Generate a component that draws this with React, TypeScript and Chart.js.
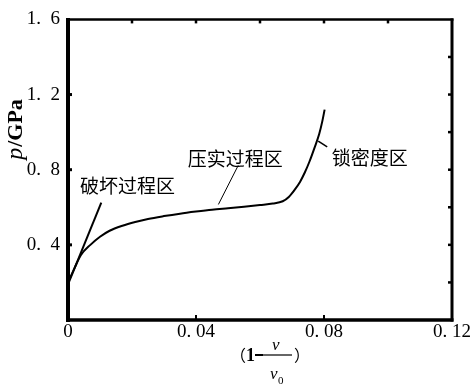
import React, { useEffect, useRef } from 'react';
import { Chart, registerables } from 'chart.js';

Chart.register(...registerables);

// Main compression curve: strain (1 - v/v0) vs pressure p (GPa)
const curveStrain = [0, 0.002, 0.004, 0.007, 0.010, 0.013, 0.017, 0.021, 0.025, 0.030, 0.035, 0.040, 0.045, 0.050, 0.055, 0.060, 0.064, 0.0671, 0.069, 0.0707, 0.0725, 0.074, 0.0755, 0.077, 0.0785, 0.0795, 0.0802];
const curvePressure = [0.20, 0.275, 0.345, 0.40, 0.443, 0.475, 0.502, 0.522, 0.538, 0.553, 0.566, 0.577, 0.587, 0.595, 0.603, 0.612, 0.620, 0.632, 0.655, 0.69, 0.735, 0.785, 0.845, 0.915, 0.99, 1.06, 1.12];

// Straight "damage" line
const damageStrain = [0, 0.0104];
const damagePressure = [0.19, 0.625];

// Leader lines for labels
const compactLeaderStrain = [0.0532, 0.047];
const compactLeaderPressure = [0.823, 0.615];
const lockLeaderStrain = [0.0782, 0.081];
const lockLeaderPressure = [0.952, 0.921];

// Ticks
const xTickValues = [0, 0.04, 0.08, 0.12];
const yTickValues = [0.4, 0.8, 1.2, 1.6];
const topTickValues = [0.02, 0.04, 0.06, 0.08, 0.1];
const rightTickValues = [0.2, 0.4, 0.6, 0.8, 1.0, 1.2, 1.4];
const bottomTickValues = [0.04, 0.08];
const leftTickValues = [0.4, 0.8, 1.2];

// Region labels
const regionNames = ['破坏过程区', '压实过程区', '锁密度区'];
const regionAnchorStrain = [0.0186, 0.0523, 0.0943];
const regionAnchorPressure = [0.714, 0.86, 0.865];

const toPoints = (xs: number[], ys: number[]) => xs.map((v, i) => ({ x: v, y: ys[i] }));

const fmtX = (v: number) => (v === 0 ? '0' : v.toFixed(2).replace('.', '. '));
const fmtY = (v: number) => (v === 0 ? '0' : v.toFixed(1).replace('.', '.\u2002'));

const decorPlugin = {
  id: 'decor',
  afterDraw(chart: any) {
    const ctx = chart.ctx as CanvasRenderingContext2D;
    const xs = chart.scales.x;
    const ys = chart.scales.y;
    const ca = chart.chartArea;
    ctx.save();
    ctx.strokeStyle = '#000';
    ctx.fillStyle = '#000';
    ctx.lineCap = 'butt';
    const seg = (x1: number, y1: number, x2: number, y2: number, w: number) => {
      ctx.lineWidth = w;
      ctx.beginPath();
      ctx.moveTo(x1, y1);
      ctx.lineTo(x2, y2);
      ctx.stroke();
    };
    // frame
    seg(ca.left, ca.top - 1.5, ca.left, ca.bottom + 2, 4);
    seg(ca.left - 2, ca.bottom, ca.right + 1.5, ca.bottom, 3.5);
    seg(ca.left - 2, ca.top, ca.right + 1.5, ca.top, 2.5);
    seg(ca.right, ca.top - 1, ca.right, ca.bottom + 1.5, 3);
    // inward ticks
    leftTickValues.forEach(v => { const p = ys.getPixelForValue(v); seg(ca.left, p, ca.left + 4, p, 3); });
    rightTickValues.forEach(v => { const p = ys.getPixelForValue(v); seg(ca.right, p, ca.right - 4, p, 2.5); });
    topTickValues.forEach(v => { const p = xs.getPixelForValue(v); seg(p, ca.top, p, ca.top + 4, 2.5); });
    bottomTickValues.forEach(v => { const p = xs.getPixelForValue(v); seg(p, ca.bottom, p, ca.bottom - 5, 2); });

    // region labels
    ctx.font = '19px "Noto Sans CJK SC"';
    ctx.textAlign = 'center';
    ctx.textBaseline = 'middle';
    regionNames.forEach((t, i) => {
      ctx.fillText(t, xs.getPixelForValue(regionAnchorStrain[i]), ys.getPixelForValue(regionAnchorPressure[i]));
    });

    // y-axis title: p/GPa rotated
    ctx.save();
    ctx.translate(16, 130);
    ctx.rotate(-Math.PI / 2);
    ctx.textAlign = 'left';
    ctx.textBaseline = 'middle';
    const f1 = 'italic 24px "Liberation Serif"';
    const f2 = 'bold 22px "Liberation Serif"';
    ctx.font = f1;
    const w1 = ctx.measureText('p').width;
    ctx.font = f2;
    const w2 = ctx.measureText('/GPa').width;
    const start = -(w1 + w2) / 2;
    ctx.font = f1;
    ctx.fillText('p', start, 0);
    ctx.font = f2;
    ctx.fillText('/GPa', start + w1 + 1, 0);
    ctx.restore();

    // x-axis title: (1 - v/v0)
    ctx.textBaseline = 'alphabetic';
    ctx.textAlign = 'left';
    ctx.font = '16px "Noto Sans CJK SC"';
    ctx.fillText('（', 230, 361);
    ctx.font = 'bold 18px "Liberation Serif"';
    ctx.fillText('1', 246, 361);
    seg(255, 355, 263, 355, 2);
    seg(263, 355, 292, 355, 1.2);
    ctx.font = 'italic 17px "Liberation Serif"';
    ctx.fillText('v', 272, 350);
    ctx.fillText('v', 270, 379);
    ctx.font = '11px "Liberation Serif"';
    ctx.fillText('0', 278, 384);
    ctx.font = '16px "Noto Sans CJK SC"';
    ctx.fillText('）', 294, 361);
    ctx.restore();
  },
};

export default function App() {
  const ref = useRef<HTMLCanvasElement | null>(null);
  useEffect(() => {
    if (!ref.current) return;
    const lineDs = (xs: number[], ys: number[], w: number, extra: any = {}) => ({
      data: toPoints(xs, ys),
      showLine: true,
      borderColor: '#000',
      backgroundColor: '#000',
      borderWidth: w,
      pointRadius: 0,
      fill: false,
      ...extra,
    });
    const chart = new Chart(ref.current, {
      type: 'scatter',
      data: {
        datasets: [
          lineDs(curveStrain, curvePressure, 2, { cubicInterpolationMode: 'monotone' }),
          lineDs(damageStrain, damagePressure, 2),
          lineDs(compactLeaderStrain, compactLeaderPressure, 1),
          lineDs(lockLeaderStrain, lockLeaderPressure, 1.5),
        ],
      },
      options: {
        responsive: false,
        animation: false,
        layout: { padding: { top: 13, right: 16, left: 0, bottom: 0 } },
        plugins: { legend: { display: false }, tooltip: { enabled: false } },
        scales: {
          x: {
            type: 'linear',
            min: 0,
            max: 0.12,
            position: 'bottom',
            grid: { display: false, drawTicks: false, tickLength: 0 },
            border: { display: false },
            afterFit: (s: any) => { s.height = 67; },
            afterBuildTicks: (s: any) => { s.ticks = xTickValues.map(v => ({ value: v })); },
            ticks: {
              autoSkip: false,
              maxRotation: 0,
              padding: 1,
              color: '#000',
              font: { family: '"Liberation Serif"', size: 19 },
              callback: (v: any) => fmtX(Number(v)),
            },
          },
          y: {
            type: 'linear',
            min: 0,
            max: 1.6,
            position: 'left',
            grid: { display: false, drawTicks: false, tickLength: 0 },
            border: { display: false },
            afterFit: (s: any) => { s.width = 68; },
            afterBuildTicks: (s: any) => { s.ticks = yTickValues.map(v => ({ value: v })); },
            ticks: {
              autoSkip: false,
              padding: 8,
              color: '#000',
              font: { family: '"Liberation Serif"', size: 19 },
              callback: (v: any) => fmtY(Number(v)),
            },
          },
        },
      },
      plugins: [decorPlugin],
    } as any);
    return () => chart.destroy();
  }, []);
  return (
    <div style={{ position: 'absolute', left: 0, top: 0, width: 472, height: 387, background: '#fff' }}>
      <canvas ref={ref} width={472} height={387} />
    </div>
  );
}
